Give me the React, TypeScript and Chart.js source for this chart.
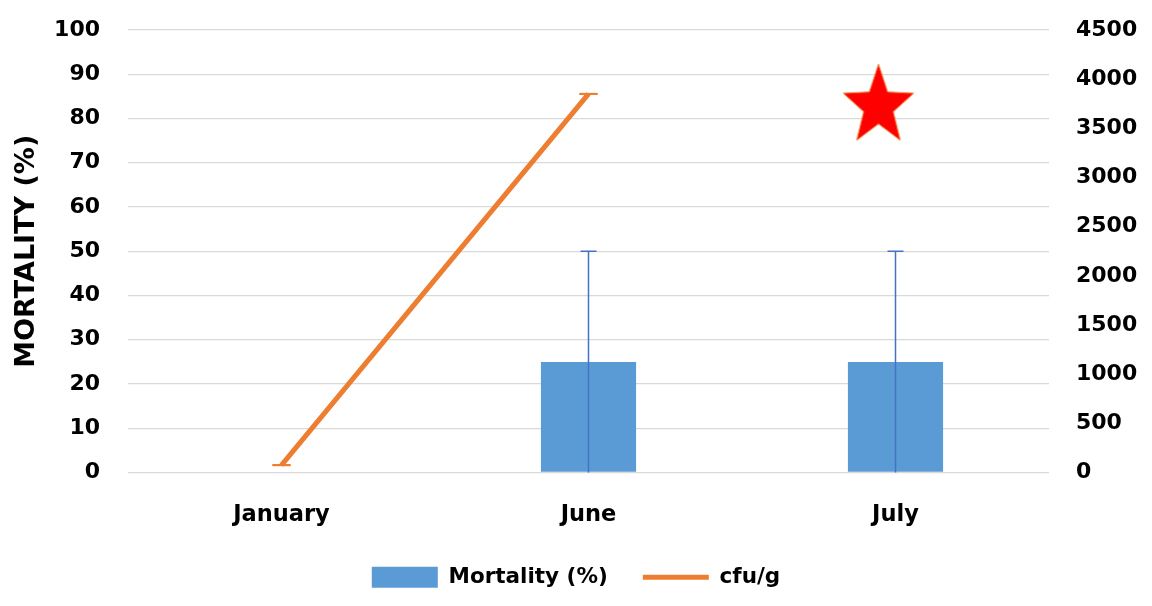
import React, { useEffect, useRef } from "react";
import { Chart, registerables } from "chart.js";

Chart.register(...registerables);

const categories = ["January", "June", "July"];
const mortality = [0, 25, 25];
const mortalityErr = [0, 25, 25];
const cfu: (number | null)[] = [75, 3850, null];
const cfuErr: (number | null)[] = [0, 0, null];
const markerCfu: (number | null)[] = [null, null, 3725];
const leftMax = 100;
const leftStep = 10;
const rightMax = 4500;
const rightStep = 500;

const FONT = "'DejaVu Sans', sans-serif";

function makeStar(): HTMLCanvasElement {
  const rx = 37;
  const ry = 42;
  const shift = 17;
  const w = 2 * (rx + shift) + 4;
  const h = 2 * ry + 4;
  const c = document.createElement("canvas");
  c.width = w;
  c.height = h;
  const ctx = c.getContext("2d")!;
  const cx = w / 2 - shift;
  const cy = h / 2;
  ctx.beginPath();
  for (let i = 0; i < 10; i++) {
    const ang = -Math.PI / 2 + (i * Math.PI) / 5;
    const f = i % 2 === 0 ? 1 : 0.42;
    const x = cx + rx * f * Math.cos(ang);
    const y = cy + ry * f * Math.sin(ang);
    if (i === 0) ctx.moveTo(x, y);
    else ctx.lineTo(x, y);
  }
  ctx.closePath();
  ctx.fillStyle = "#FF0000";
  ctx.fill();
  ctx.strokeStyle = "#ED7D31";
  ctx.lineWidth = 1;
  ctx.stroke();
  return c;
}

const errorBarPlugin = {
  id: "errorBars",
  afterDatasetsDraw(chart: any) {
    const ctx = chart.ctx;
    const x = chart.scales.x;
    const y = chart.scales.y;
    const y1 = chart.scales.y1;
    ctx.save();
    ctx.strokeStyle = "#4472C4";
    ctx.lineWidth = 1.5;
    mortality.forEach((v, i) => {
      const e = mortalityErr[i];
      if (!e) return;
      const px = x.getPixelForValue(i);
      const top = y.getPixelForValue(v + e);
      const bot = y.getPixelForValue(Math.max(0, v - e));
      ctx.beginPath();
      ctx.moveTo(px, bot);
      ctx.lineTo(px, top);
      ctx.moveTo(px - 8, top);
      ctx.lineTo(px + 8, top);
      ctx.stroke();
    });
    ctx.strokeStyle = "#ED7D31";
    ctx.lineWidth = 2;
    cfu.forEach((v, i) => {
      const e = cfuErr[i];
      if (v == null || e == null) return;
      const px = x.getPixelForValue(i);
      [v + e, v - e].forEach((val) => {
        const py = y1.getPixelForValue(val);
        ctx.beginPath();
        ctx.moveTo(px - 9, py);
        ctx.lineTo(px + 9, py);
        ctx.stroke();
      });
    });
    ctx.restore();
  },
};

export default function App() {
  const ref = useRef<HTMLCanvasElement>(null);
  useEffect(() => {
    document.body.style.margin = "0";
    const star = makeStar();
    const chart = new Chart(ref.current!, {
      type: "bar",
      data: {
        labels: categories,
        datasets: [
          {
            type: "bar",
            label: "Mortality (%)",
            data: mortality,
            backgroundColor: "#5B9BD5",
            borderWidth: 0,
            yAxisID: "y",
            barPercentage: 0.31,
            categoryPercentage: 1,
            pointStyle: "rect",
            order: 2,
          } as any,
          {
            type: "line",
            label: "cfu/g",
            data: cfu,
            borderColor: "#ED7D31",
            backgroundColor: "#ED7D31",
            borderWidth: 5,
            pointRadius: 0,
            yAxisID: "y1",
            pointStyle: "line",
            order: 1,
          } as any,
          {
            type: "line",
            label: "marker",
            data: markerCfu,
            showLine: false,
            pointStyle: star,
            pointRadius: 40,
            yAxisID: "y1",
            order: 0,
          } as any,
        ],
      },
      options: {
        animation: false,
        responsive: false,
        events: [],
        layout: { autoPadding: false, padding: { top: 30, left: 0, right: 0, bottom: 8 } },
        plugins: {
          tooltip: { enabled: false },
          legend: {
            position: "bottom",
            labels: {
              filter: (item: any) => item.text !== "marker",
              sort: (a: any, b: any) => a.datasetIndex - b.datasetIndex,
              usePointStyle: true,
              pointStyleWidth: 66,
              boxHeight: 21,
              padding: 35,
              color: "#000",
              font: { family: FONT, size: 21.5, weight: "bold" },
            },
          },
        },
        scales: {
          x: {
            grid: { display: false },
            border: { display: false },
            ticks: {
              color: "#000",
              padding: 21,
              font: { family: FONT, size: 22.5, weight: "bold" },
            },
            afterFit: (s: any) => {
              s.height = 59;
            },
          },
          y: {
            position: "left",
            min: 0,
            max: leftMax,
            ticks: {
              stepSize: leftStep,
              color: "#000",
              padding: 0,
              font: { family: FONT, size: 22, weight: "bold" },
            },
            grid: {
              color: "#D9D9D9",
              lineWidth: 1.3,
              drawTicks: true,
              tickLength: 28,
              tickColor: "rgba(0,0,0,0)",
            },
            border: { display: false },
            title: {
              display: true,
              text: "MORTALITY (%)",
              color: "#000",
              font: { family: FONT, size: 27, weight: "bold" },
              padding: { top: 11, bottom: 0 },
            },
            afterFit: (s: any) => {
              s.width = 128;
            },
          },
          y1: {
            position: "right",
            min: 0,
            max: rightMax,
            ticks: {
              stepSize: rightStep,
              color: "#000",
              padding: 0,
              font: { family: FONT, size: 22, weight: "bold" },
              callback: (v: any) => String(v),
            },
            grid: {
              display: true,
              drawOnChartArea: false,
              drawTicks: true,
              tickLength: 27,
              tickColor: "rgba(0,0,0,0)",
              color: "rgba(0,0,0,0)",
            },
            border: { display: false },
            afterFit: (s: any) => {
              s.width = 103;
            },
          },
        },
      } as any,
      plugins: [errorBarPlugin],
    });
    return () => chart.destroy();
  }, []);
  return (
    <div style={{ width: 1152, height: 606, background: "#fff" }}>
      <canvas ref={ref} width={1152} height={606} style={{ display: "block" }} />
    </div>
  );
}
